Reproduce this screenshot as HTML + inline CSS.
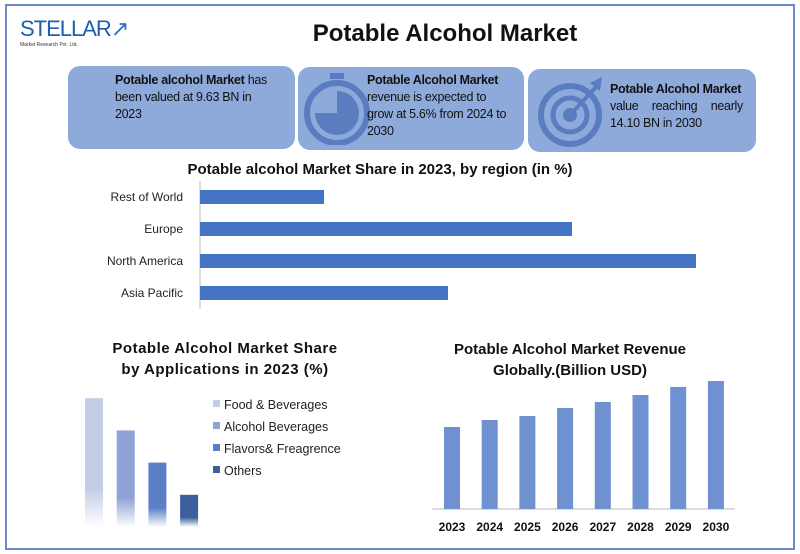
<!DOCTYPE html>
<html><head><meta charset="utf-8"><style>
body{margin:0;width:800px;height:554px;background:#fff;font-family:"Liberation Sans",sans-serif;overflow:hidden}
.frame{position:absolute;left:5px;top:4px;width:786px;height:542px;border:2px solid #6d8bc4}
.box{position:absolute;background:#8eaadb;border-radius:12px;font-size:12.5px;line-height:17px;color:#111;letter-spacing:-0.3px;white-space:nowrap}
svg text{font-family:"Liberation Sans",sans-serif}
</style></head><body>
<div class="frame"></div>
<div style="position:absolute;left:20px;top:16px;width:100px;height:42px">
<div style="font-size:22px;color:#1f5fae;letter-spacing:-1px">STELLAR<span style="color:#2f6fc0">↗</span></div>
<div style="font-size:5px;color:#333">Market Research Pvt. Ltd.</div></div>
<div style="position:absolute;left:0;width:890px;top:20px;text-align:center;font-size:24px;font-weight:bold;color:#111">Potable Alcohol Market</div>
<div class="box" style="left:68px;top:66px;width:227px;height:83px"><div style="position:absolute;left:47px;top:6px"><b>Potable alcohol Market</b> has<br>been valued at 9.63 BN in<br>2023</div></div>
<div class="box" style="left:298px;top:67px;width:226px;height:83px">
<svg style="position:absolute;left:6px;top:6px" width="66" height="72"><rect x="26" y="0" width="14" height="6" fill="#5a7dbf"/><circle cx="33" cy="40" r="30" fill="none" stroke="#5a7dbf" stroke-width="6"/><path d="M33 40 L33 18 A22 22 0 1 1 11 40 Z" fill="#5a7dbf"/></svg>
<div style="position:absolute;left:69px;top:5px"><b>Potable Alcohol Market</b><br>revenue is expected to<br>grow at 5.6% from 2024 to<br>2030</div></div>
<div class="box" style="left:528px;top:69px;width:228px;height:83px">
<svg style="position:absolute;left:10px;top:6px" width="70" height="72"><circle cx="32" cy="40" r="29" fill="none" stroke="#5a7dbf" stroke-width="6"/><circle cx="32" cy="40" r="17" fill="none" stroke="#5a7dbf" stroke-width="5"/><circle cx="32" cy="40" r="7" fill="#5a7dbf"/><line x1="32" y1="40" x2="58" y2="12" stroke="#5a7dbf" stroke-width="4"/><path d="M52 8 L64 2 L62 16 Z" fill="#5a7dbf"/></svg>
<div style="position:absolute;left:82px;top:12px;width:133px"><b>Potable Alcohol Market</b><br><div style="display:flex;justify-content:space-between"><span>value</span><span>reaching</span><span>nearly</span></div>14.10 BN in 2030</div></div>

<svg id="c" width="800" height="554" style="position:absolute;left:0;top:0"></svg>
<script>
const regions=["Rest of World","Europe","North America","Asia Pacific"];
const regionShare=[10,30,40,20];
const apps=["Food & Beverages","Alcohol Beverages","Flavors& Freagrence","Others"];
const appShare=[40,30,20,10];
const years=["2023","2024","2025","2026","2027","2028","2029","2030"];
const revenue=[9.63,10.31,10.70,11.48,12.06,12.74,13.52,14.10];
const NS="http://www.w3.org/2000/svg",svg=document.getElementById('c');
function mk(t,a,txt){const e=document.createElementNS(NS,t);for(const k in a)e.setAttribute(k,a[k]);if(txt!==undefined)e.textContent=txt;svg.appendChild(e);return e;}
const d=mk('defs',{});
const appCols=["#c3cde6","#8fa3d6","#5b7fc6","#3d5f9e"];
appCols.forEach((c,i)=>{const g=document.createElementNS(NS,'linearGradient');g.setAttribute('id','g'+i);g.setAttribute('x1','0');g.setAttribute('y1','0');g.setAttribute('x2','0');g.setAttribute('y2','1');
g.innerHTML='<stop offset="0" stop-color="'+c+'"/><stop offset="0.7" stop-color="'+c+'"/><stop offset="1" stop-color="'+c+'" stop-opacity="0"/>';d.appendChild(g);});
let t=mk('text',{x:380,y:174,'text-anchor':'middle','font-size':15,'font-weight':'bold',fill:'#111'},'Potable alcohol Market Share in 2023, by region (in %)');

const rx=v=>200+v*12.4, ry=i=>197+i*32;
mk('line',{x1:200,y1:181,x2:200,y2:309,stroke:'#bbb'});
regions.forEach((r,i)=>{
 const b=mk('rect',{x:200,y:ry(i)-7,width:rx(regionShare[i])-200,height:14,fill:'#4472c4'});
 
 const l=mk('text',{x:183,y:ry(i)+4,'text-anchor':'end','font-size':12,fill:'#222'},r);
 
});
t=mk('text',{x:225,y:353,'text-anchor':'middle','font-size':15,'font-weight':'bold',fill:'#111',style:'letter-spacing:0.5px'},'Potable Alcohol  Market Share');

t=mk('text',{x:225,y:374,'text-anchor':'middle','font-size':15,'font-weight':'bold',fill:'#111',style:'letter-spacing:0.5px'},'by Applications in 2023 (%)');

const base=527, ay=v=>base-v*3.22;
apps.forEach((a,i)=>{
 const x=85+i*31.7;
 const b=mk('rect',{x:x,y:ay(appShare[i]),width:18,height:base-ay(appShare[i]),fill:'url(#g'+i+')'});
 
 const s=mk('rect',{x:213,y:400+i*22,width:7,height:7,fill:appCols[i]});
 
 const l=mk('text',{x:224,y:409+i*22,'font-size':12.5,fill:'#222'},a);
 
});
t=mk('text',{x:570,y:354,'text-anchor':'middle','font-size':15,'font-weight':'bold',fill:'#111'},'Potable Alcohol   Market Revenue');

t=mk('text',{x:570,y:375,'text-anchor':'middle','font-size':15,'font-weight':'bold',fill:'#111'},'Globally.(Billion USD)');

const rb=509, vy=v=>rb-(v-1.66)*10.29, xc=i=>452+i*37.7;
mk('line',{x1:432,y1:rb,x2:735,y2:rb,stroke:'#bbb'});
years.forEach((y,i)=>{
 const b=mk('rect',{x:xc(i)-8,y:vy(revenue[i]),width:16,height:rb-vy(revenue[i]),fill:'#6f91d2'});
 
 const l=mk('text',{x:xc(i),y:531,'text-anchor':'middle','font-size':12,'font-weight':'bold',fill:'#111'},y);
 
});
</script>
</body></html>
